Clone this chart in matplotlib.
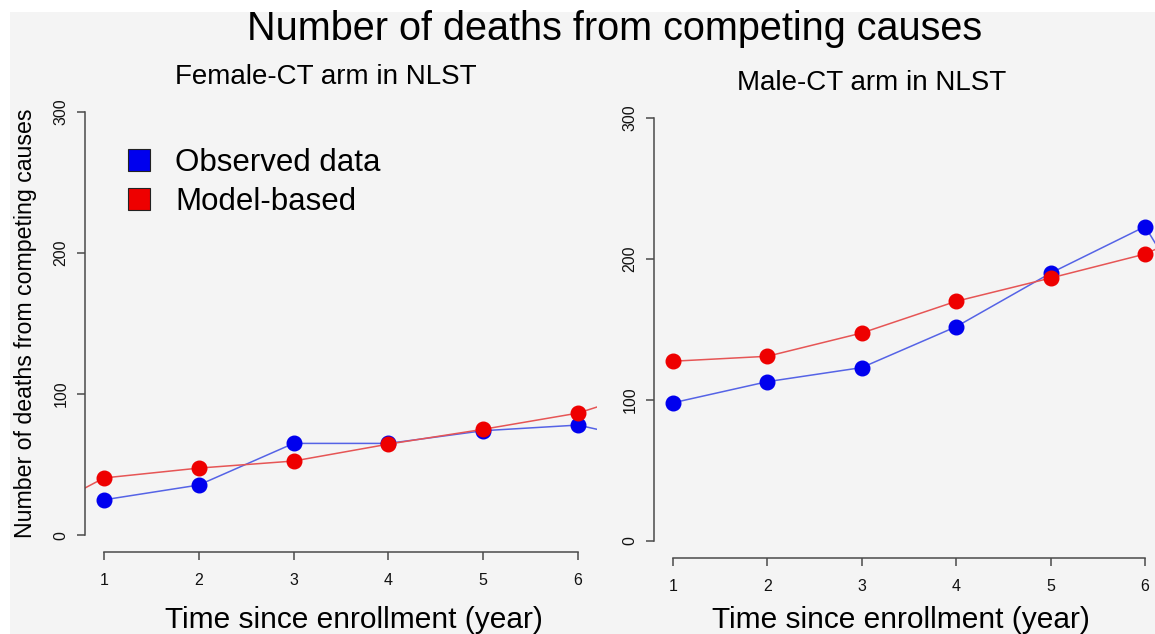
import matplotlib.pyplot as plt
from matplotlib.lines import Line2D
from matplotlib.patches import Rectangle

plt.rcParams['font.family'] = ['Liberation Sans', 'DejaVu Sans']

# left panel: female CT arm
f_obs_years = [1, 2, 3, 4, 5, 6, 7]
f_obs = [25, 35.5, 65, 65, 74, 78, 63]
f_mod_years = [0, 1, 2, 3, 4, 5, 6, 7]
f_mod = [5, 40.5, 47.5, 52.5, 64.5, 75, 86.5, 108]

# right panel: male CT arm
m_years = [1, 2, 3, 4, 5, 6, 7]
m_obs = [98, 113, 123, 152, 190, 223, 113]
m_mod = [127.5, 131, 147.5, 170, 186.5, 203.5, 234]

x_ticks = [1, 2, 3, 4, 5, 6]
y_ticks = [0, 100, 200, 300]

bg = '#f4f4f4'
blue, red = '#0000ee', '#ee0000'
blue_line, red_line = '#5563e6', '#e65555'

fig = plt.figure(figsize=(11.55, 6.34), dpi=100, facecolor=bg)
# white margin strips at top and left
fig.patches.append(Rectangle((0, 1 - 12 / 634), 1, 12 / 634, transform=fig.transFigure,
                             facecolor='white', edgecolor='none'))
fig.patches.append(Rectangle((0, 0), 10 / 1155, 1, transform=fig.transFigure,
                             facecolor='white', edgecolor='none'))

ax1 = fig.add_axes([0.0736, 0.1293, 0.4433, 0.7209])
ax2 = fig.add_axes([0.5662, 0.1199, 0.4416, 0.7208])


def style(ax, lpad):
    ax.set_facecolor('none')
    ax.set_xlim(0.8, 6.2)
    ax.set_ylim(-12, 312)
    for s in ['top', 'right']:
        ax.spines[s].set_visible(False)
    ax.spines['left'].set_bounds(0, 300)
    ax.spines['bottom'].set_bounds(1, 6)
    for s in ['left', 'bottom']:
        ax.spines[s].set_color('#4a4a4a')
        ax.spines[s].set_linewidth(1.1)
    ax.set_xticks(x_ticks)
    ax.set_yticks(y_ticks)
    ax.set_yticklabels([str(v) for v in y_ticks], rotation=90, va='center')
    ax.tick_params(axis='both', direction='out', length=6, width=1.1, color='#4a4a4a',
                   labelsize=11.5, labelcolor='#111111')
    ax.tick_params(axis='x', pad=9)
    ax.tick_params(axis='y', pad=6)
    ax.set_xlabel('Time since enrollment (year)', fontsize=21.5, labelpad=lpad)


style(ax1, 13)
ax1.xaxis.label.set_x(0.525)
ax1.plot(f_obs_years, f_obs, color=blue_line, lw=1.1)
ax1.plot(f_obs_years, f_obs, 'o', color=blue, ms=10.5)
ax1.plot(f_mod_years, f_mod, color=red_line, lw=1.1)
ax1.plot(f_mod_years, f_mod, 'o', color=red, ms=10.5)
ax1.set_ylabel('Number of deaths from competing causes', fontsize=16.7, labelpad=12)
ax1.set_title('Female-CT arm in NLST', fontsize=20, pad=8, x=0.471)

handles = [Line2D([], [], marker='s', ls='none', ms=16, mfc=blue, mec='#222222', mew=0.8),
           Line2D([], [], marker='s', ls='none', ms=16, mfc=red, mec='#222222', mew=0.8)]
ax1.legend(handles, ['Observed data', 'Model-based'], loc='upper left',
           bbox_to_anchor=(0.02, 0.912), frameon=False, fontsize=22.5,
           handletextpad=0.15, labelspacing=0.3, borderaxespad=0)

style(ax2, 9)
ax2.xaxis.label.set_x(0.484)
ax2.plot(m_years, m_obs, color=blue_line, lw=1.1)
ax2.plot(m_years, m_obs, 'o', color=blue, ms=10.5)
ax2.plot(m_years, m_mod, color=red_line, lw=1.1)
ax2.plot(m_years, m_mod, 'o', color=red, ms=10.5)
ax2.set_title('Male-CT arm in NLST', fontsize=20, pad=8, x=0.427)

fig.text(0.532, 0.955, 'Number of deaths from competing causes', ha='center', va='center',
         fontsize=28.5)

fig.savefig('out.png', dpi=100, facecolor=bg)
